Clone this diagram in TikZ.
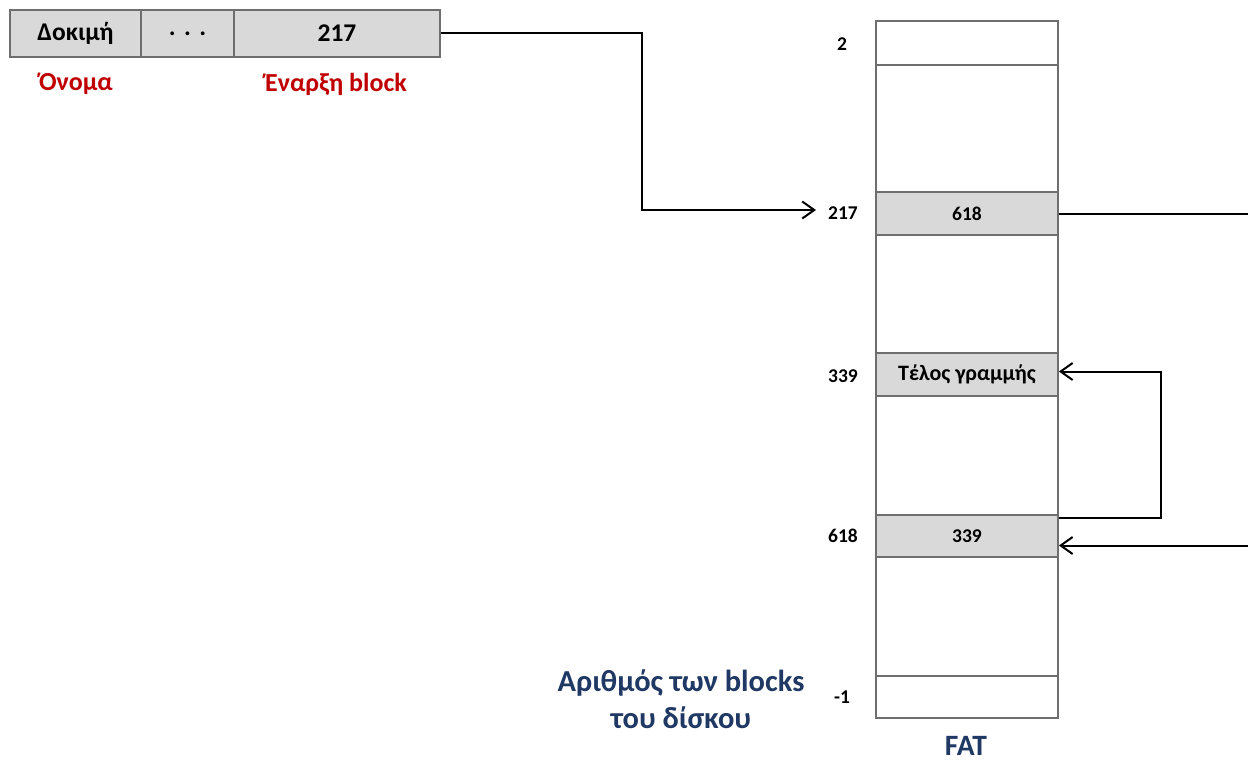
\documentclass[tikz,border=0pt]{standalone}
\usepackage{fontspec}
\setmainfont{Carlito}
\usetikzlibrary{arrows.meta}
\definecolor{cellfill}{HTML}{D9D9D9}
\definecolor{cellline}{HTML}{6E6E6E}
\definecolor{redlab}{HTML}{C00000}
\definecolor{bluelab}{HTML}{1F3864}
\begin{document}
\begin{tikzpicture}[x=1pt,y=-1pt,
  cellbase/.style={draw=cellline, line width=1.8pt, inner sep=0pt, text=black},
  fat/.style={cellbase, minimum width=182pt, font=\bfseries\fontsize{19.5}{22}\selectfont},
  fatg/.style={fat, fill=cellfill},
  topcell/.style={cellbase, fill=cellfill, minimum height=47pt, font=\bfseries\fontsize{25.5}{29}\selectfont},
  idx/.style={font=\bfseries\fontsize{19.5}{22}\selectfont, text=black, inner sep=0pt},
  redtxt/.style={font=\bfseries\fontsize{26}{30}\selectfont, text=redlab, inner sep=0pt},
  bluetxt/.style={font=\bfseries\fontsize{30.5}{37}\selectfont, text=bluelab, inner sep=0pt, align=center},
  conn/.style={line width=2pt, black},
  tip/.style={-{Straight Barb[length=12pt,width=17pt,line width=2pt]}}
]
\useasboundingbox (0,0) rectangle (1248,760);
% top record
\node[topcell, minimum width=131pt] (name) at (75.5,33.5) {Δοκιμή};
\node[topcell, minimum width=93pt] (dots) at (187.5,33.5) {.\,\,.\,\,.};
\node[topcell, minimum width=206pt] (start) at (337,33.5) {217};
\node[redtxt] (onoma) at (76,84) {Όνομα};
\node[redtxt] (enarxi) at (336,84) {Έναρξη block};
% FAT column
\node[fat, minimum height=44pt] (r0) at (967,43) {};
\node[fat, minimum height=127pt] (r1) at (967,128.5) {};
\node[fatg, minimum height=43pt] (r2) at (967,213.5) {618};
\node[fat, minimum height=118pt] (r3) at (967,294) {};
\node[fatg, minimum height=43pt, font=\bfseries\fontsize{22}{25}\selectfont] (r4) at (967,374.5) {Τέλος γραμμής};
\node[fat, minimum height=119pt] (r5) at (967,455.5) {};
\node[fatg, minimum height=42pt] (r6) at (967,536) {339};
\node[fat, minimum height=119pt] (r7) at (967,616.5) {};
\node[fat, minimum height=42pt] (r8) at (967,697) {};
% indices
\node[idx] (i2) at (842,44) {2};
\node[idx] (i217) at (843,213) {217};
\node[idx] (i339) at (843,376) {339};
\node[idx] (i618) at (843,536) {618};
\node[idx] (im1) at (842,697) {-1};
% captions
\node[bluetxt] (nblocks) at (681,699) {Αριθμός των blocks\\του δίσκου};
\node[bluetxt, font=\bfseries\fontsize{29.5}{34}\selectfont, text depth=0pt, anchor=base] (fatlab) at (966,755) {FAT};
% connectors
\draw[conn, tip] (start.east) -- ++(201,0) |- ([xshift=-12pt,yshift=3pt]i217.west);
\draw[conn, tip] (r2.east) -- ++(195,0) |- ([yshift=-9.5pt]r6.east);
\draw[conn, tip] ([yshift=18pt]r6.east) -- ++(102,0) |- ([yshift=3pt]r4.east);
\end{tikzpicture}
\end{document}
